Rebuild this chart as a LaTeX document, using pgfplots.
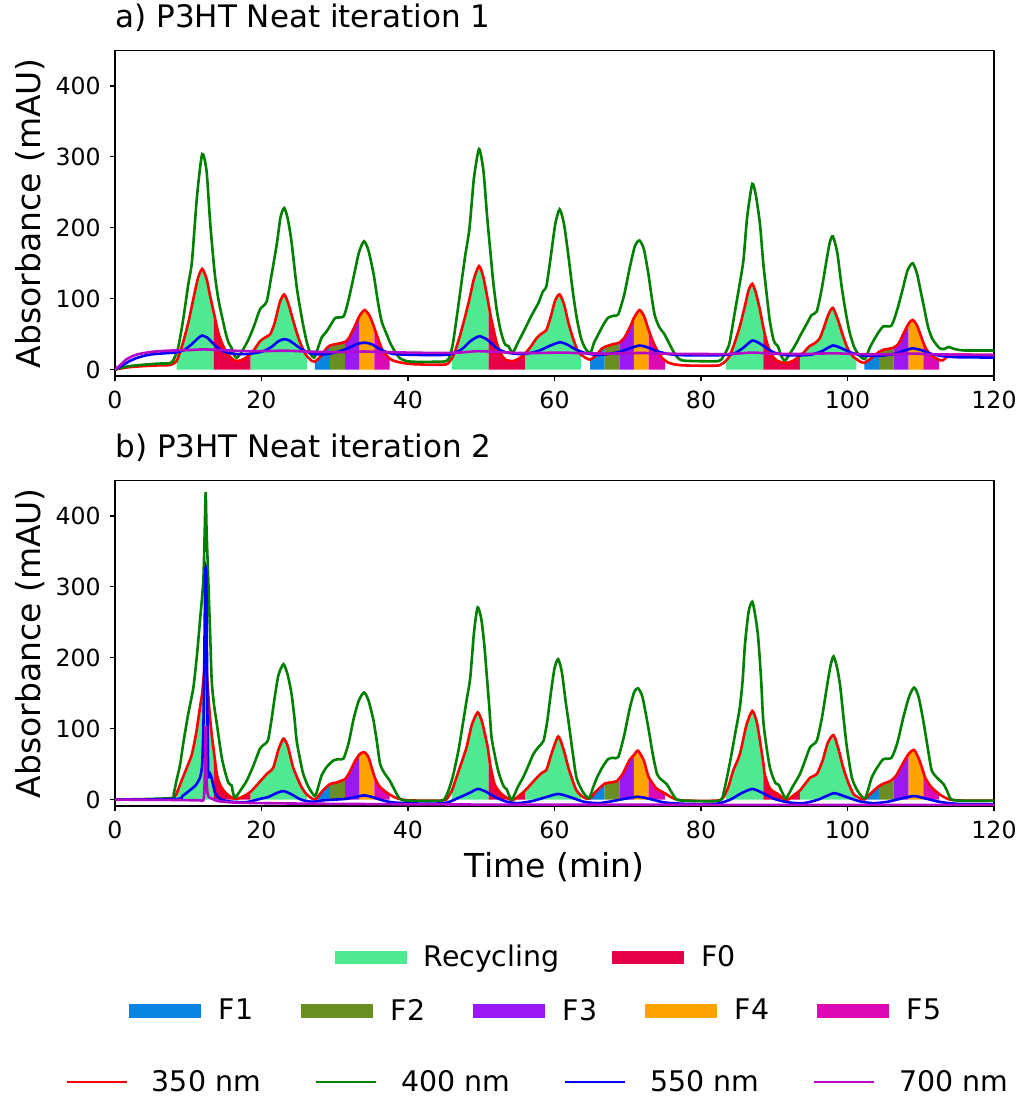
\documentclass[border=0pt]{standalone}
\usepackage{fontspec}
\setmainfont{DejaVu Sans}
\usepackage{pgfplots}
\usepackage{pgfplotstable}
\pgfplotsset{compat=1.18}

\definecolor{recyc}{HTML}{50E991}
\definecolor{fzero}{HTML}{E60049}
\definecolor{fone}{HTML}{0984E3}
\definecolor{ftwo}{HTML}{6B8E23}
\definecolor{fthree}{HTML}{9B19F5}
\definecolor{ffour}{HTML}{FFA300}
\definecolor{ffive}{HTML}{DC0AB4}
\definecolor{wlA}{HTML}{FF0000}
\definecolor{wlB}{HTML}{008000}
\definecolor{wlC}{HTML}{0000FF}
\definecolor{wlD}{HTML}{B40AC8}

% ---------------- iteration 1 ----------------
\pgfplotstableread{
t y
0 0
1 2
2 3.5
4 5
6 6
7.5 6.5
8.4 12
9.2 35
10.0 66
10.6 95
11.3 128
11.9 142
12.5 128
13.0 103
13.5 80
14.1 52
14.7 35
15.3 23
16.0 15
16.6 12
17.4 14
18.2 19
18.5 22
19.0 28
19.8 40
20.6 46
21.2 50
21.8 66
22.5 95
23.1 106
23.7 92
24.3 70
25.0 46
25.7 28
26.2 19
26.9 12
27.3 11.3
28.2 20
28.8 29
29.35 34
30.2 36
31.4 39
31.9 44
32.5 56
33.4 76
34.1 84
34.8 75
35.4 59
36.1 38
36.6 26
37.5 15.5
38.2 12
39.5 9
41 7.5
43 7
45 7
45.5 9
46.0 16
46.4 25
47.1 48
47.8 75
48.4 100
49.0 128
49.7 146
50.3 130
51.0 92
51.4 70
52.1 38
52.7 22
53.3 14
54.3 12
55.2 16
56.0 23
56.8 33
57.6 45
58.4 52
58.9 56
59.5 75
60.1 98
60.7 106
61.3 92
61.9 66
62.5 45
63.1 28
63.6 21
64.85 14
65.8 22
66.5 30
66.85 32
68.0 36
68.85 38
69.6 46
70.4 62
70.85 73
71.6 84
72.2 76
72.85 56
73.5 38
74.2 24
74.8 15
75.1 13
75.5 10
76.3 7.5
77.5 6
80 5.5
82.5 6
83.4 12.5
83.9 19
84.6 38
85.3 61
86.0 90
86.5 112
87.0 121
87.5 108
88.05 84
88.5 60
89.0 38
89.6 22
90.3 13
91.5 9.5
92.5 12
93.5 19.5
94.0 24
94.8 33
95.5 37
96.2 44
96.8 60
97.4 78
98.0 87
98.7 70
99.4 47
100.1 28
100.8 18
101.2 15
101.6 12
102.3 9.5
103.2 16
104.3 25
104.9 28
106.3 31
107.0 37
107.6 50
108.35 65
108.9 70
109.5 62
110.35 38
110.8 28
111.6 19
112.5 13.8
113.0 13
113.6 18
114.3 21
116 21
120 20.5
}\runAa

\pgfplotstableread{
t y
0 0
1 3
2 5
4 7
6 8.5
7.5 9
8.0 14
8.6 30
9.3 70
10.0 120
10.5 152
11.2 245
11.9 304
12.5 280
13.0 206
13.6 137
14.1 100
14.6 75
15.1 52
15.5 38
15.9 31
16.2 22
16.6 16.5
17.3 25
18.2 42
19.0 62
19.8 85
20.7 96
21.4 135
22.1 178
22.6 215
23.1 228
23.6 212
24.1 180
24.8 117
25.3 85
25.7 62
26.2 38
26.7 22
27.2 17
27.7 30
28.2 45
28.9 54
29.5 64
30.1 73
31.2 75
31.8 95
32.5 127
33.3 165
34.0 181
34.6 168
35.3 135
35.9 95
36.4 68
37.0 52
37.6 37
38.3 24
38.9 16
39.8 12
41 11
43 11
45 11.5
45.6 16
46.1 35
46.6 70
47.2 115
47.8 160
48.4 200
49.0 270
49.7 311
50.3 280
50.8 216
51.3 160
51.6 127
52.1 85
52.6 57
53.0 42
53.3 35
53.7 33
54.3 24
55.0 38
55.9 56
56.8 75
57.8 94
58.4 110
58.9 118
59.5 160
60.1 205
60.7 226
61.3 205
61.9 160
62.5 110
63.0 75
63.6 45
64.2 30
64.9 23.5
65.4 38
65.9 48
66.6 62
67.3 73
68.1 76
68.7 78
69.5 105
70.3 145
71.0 175
71.6 182
72.2 170
72.8 136
73.3 100
73.7 76
74.3 60
75.0 50
75.6 38
76.2 26
76.8 17
77.4 13
79 12
82.4 12
83.0 18
83.5 27
83.9 38
84.6 80
85.3 122
85.8 155
86.3 215
87.0 262
87.5 245
88.05 205
88.5 150
89.0 103
89.4 68
89.9 42
90.2 36
90.5 33
91.0 18
91.5 13
92.3 25
93.0 37
93.6 49
94.3 62
95.1 77
95.8 82
96.5 115
97.2 158
97.6 180
98.0 188
98.6 165
99.2 117
99.8 78
100.3 52
100.9 32
101.6 20
102.4 15
103.0 30
103.5 40
104.2 52
104.9 61
106.0 62
106.8 85
107.5 112
108.2 140
108.9 150
109.5 135
110.0 110
110.5 85
111.0 60
111.5 45
112.0 37
112.6 30
113.2 29
113.8 32
114.6 29
116 27
120 27
}\runAb

\pgfplotstableread{
t y
0 0
1 6
2 12
3 16.5
4 19.5
5 21.5
6 22.5
7.5 23.5
8.5 24.5
9.5 28
10.5 36
11.3 44
11.9 48
12.6 45
13.3 38
14.0 31
14.8 26
15.5 23.5
16.5 22
18 22
19.5 24
20.5 27
21.5 33
22.3 40
23.1 43
23.8 41
24.5 36
25.3 30
26 26
27 22
28 21.5
29 22
30 24
31 27
32 31
33 36
34.1 38
35 36
36 30
37 25
38 22
40 21
43 20.5
45.5 21
46.5 24
47.5 30
48.5 40
49.7 47
50.7 43
51.5 36
52.3 29
53.5 24
55 22
56.5 23
58 27
59 32
60.7 38.5
61.8 35
62.8 29
64 24
65.5 21
67 21.5
68.5 24
70 29
71.6 34
72.8 31
74 26
75.5 22
77 20.5
80 20
83 20.5
84.5 22.5
85.8 31
87.0 41
88.0 37
89 30
90 24
91.5 20.5
93 20
95 21
96.5 26
98.0 34
99.2 30
100.5 24
102 20
103.5 19.5
105 20
106.5 22.5
107.8 27
108.9 30
110.2 27
111.5 22
113 19
115 17.5
120 17
}\runAc

\pgfplotstableread{
t y
0 0
0.8 7
1.5 14
2.5 19.5
3.5 22.5
5 25
6.5 26.3
8 27
10 27.5
12 28.5
14 27.8
16 26.8
18 26
20 26
22 26.5
24 26.5
26 25.5
28 25
30 24.5
32 25
34 25.5
36 25
38 24.5
40 24
44 23.5
47 24
49.5 26
52 25
55 23.5
58 23.5
61 24
64 23
67 22.5
70 23
72 23.5
75 22.5
80 22
84 22
87 24
90 22.5
94 22
98 23
101 22
105 21.5
109 22.5
112 21.5
116 21
120 20.5
}\runAd

% ---------------- iteration 2 ----------------
\pgfplotstableread{
t y
0 0
7.5 0
8.0 2
8.4 8.5
9.1 27
9.8 45
10.5 64
11.1 95
11.6 130
11.9 150
12.2 185
12.4 205
12.6 170
12.9 125
13.2 92
13.5 68
13.9 36
14.3 22
14.8 13
15.5 6
16.4 1
17.4 4
18.5 11
19.5 22
20.7 36
21.6 45
22.3 70
23.0 86
23.6 75
24.3 46
25.0 28
25.5 17
26.2 7
27.3 0
28.3 12
29.35 22
30.2 24
31.4 29
32.0 38
32.8 55
33.4 64
34.0 67
34.6 60
35.4 33
36.0 20
36.6 14
37.5 7
38.5 2
40 -1
44 -1.5
45.2 0
46.0 13
46.6 31
47.3 52
48.0 74
48.7 105
49.5 123
50.1 110
50.8 78
51.0 65
51.3 45
51.8 22
52.4 12
53.0 6
54.2 -1
55.1 5
56.0 13
56.8 22
57.6 31
58.3 38
58.9 42
59.6 65
60.5 89
61.2 72
61.9 45
62.5 26
63.0 13
63.6 6
64.2 2
64.85 1.8
65.7 12
66.85 22.5
67.6 24
68.5 26
68.85 30
69.3 36
70.2 55
70.85 63
71.4 69
72.2 55
72.85 32
73.9 16
75.1 8.7
75.8 4
76.7 0
78 -1.5
82.5 -1
83.4 10
83.8 20
84.4 41
85.3 64
86.2 105
87.0 125
87.6 110
88.05 83
88.5 52
88.7 36
89.2 20
89.65 13
90.5 8
91.6 -1
92.5 5
93.5 13
94.2 22
94.9 31
95.8 36
96.6 55
97.3 80
98.1 91
98.8 70
99.4 45.5
100.1 24
100.8 8
101.2 5
101.6 2
102.3 0.2
103.2 9
104.3 19
105.0 23
105.8 26
106.3 30
106.6 33
107.5 50
108.35 64.5
109.1 70
109.8 56
110.35 39
110.6 31
111.4 18
112.5 8
113.1 4
114 0
116 -1.5
120 -1.5
}\runBa

\pgfplotstableread{
t y
0 0
7.5 2
8.0 8
8.4 27
8.9 50
9.3 78
10.0 121
10.7 158
11.2 205
11.6 252
12.05 308
12.25 380
12.38 434
12.5 380
12.74 308
13.0 230
13.2 168
13.5 135
13.9 107
14.2 85
14.56 60
15.0 40
15.47 24
15.75 21
15.93 20
16.1 10
16.4 3
17.2 14
18.0 27
18.9 48
19.8 72
20.4 78
20.9 84
21.4 115
21.8 144
22.3 175
23.0 191
23.6 175
24.1 149
24.5 115
24.8 83
25.3 55
25.7 36
26.4 18
27.3 5
27.8 20
28.2 34
28.9 46
29.8 55
30.5 57
31.2 58
31.9 80
32.6 115
33.3 140
34.0 151
34.6 140
35.3 111
35.8 78
36.2 50
36.8 37
37.5 27
38.2 13
38.9 1
40 -1.5
44.5 -1.5
45.2 5
45.7 18
46.2 36
46.9 70
47.55 111
48.0 140
48.5 172
49.0 235
49.5 271
50.0 255
50.4 220
50.7 182
51.1 130
51.4 88
51.9 60
52.3 41
52.7 28
53.0 20
53.2 17
53.5 14
53.8 6
54.2 0
55.0 18
55.7 31
56.4 47
57.1 64
57.8 74
58.5 83
59.0 110
59.5 150
60.0 185
60.5 198
61.0 180
61.5 140
61.9 111
62.5 65
63.0 31
63.8 12
64.7 2
65.3 18
65.8 31
66.5 45
67.3 57
68.0 59
68.7 60
69.5 90
70.3 130
70.9 152
71.4 157
72.0 145
72.8 102
73.4 65
74.0 36
74.6 28
75.3 22
76.0 10
76.7 0
78 -1.5
82.5 -1.5
83.2 15
84.0 55
84.7 95
85.3 130
85.7 170
86.0 219
86.5 265
87.0 279
87.4 260
87.8 229
88.2 170
88.5 111
89.0 70
89.4 45.5
89.8 32
90.2 23
90.6 21
91.0 12
91.6 2
92.5 18
93.5 36
94.2 55
94.9 74
95.8 83
96.5 115
97.2 160
97.7 190
98.1 202
98.6 185
99.0 160
99.4 121
99.9 75
100.6 31
101.4 12
102.4 2
103.3 31
104.1 46
104.9 57
106.0 59
106.8 80
107.6 115
108.4 145
109.1 158
109.7 145
110.35 111
111.0 70
111.5 41
112.3 30
113.1 22
113.6 12
114.2 0
116 -1.5
120 -1.5
}\runBb

\pgfplotstableread{
t y
0 0
8.4 1
9.2 5
10.2 13
11.0 20
11.6 31
11.9 50
12.1 120
12.3 300
12.38 327
12.48 300
12.62 120
12.74 36
13.0 36
13.2 30
13.65 10
14.2 2
14.8 -1
16 -3
18 -3.5
19.8 1
21 4
22 9
23.0 12
24 8
25 2
25.7 -1
27 -3
28.4 -1
30 0
31.5 1
33 4
34.0 6
35 4
36.5 -1
38 -4
41 -5.5
45 -5
47 3
48.5 10
49.5 15
50.5 12
52 3
53.5 -3
55 -5
57 -2
59 4
60.5 8
62 4
64 -3
66 -5
68 -2
70 2
71.4 4
73 1
75 -4
78 -6
82 -6
84 0
85.5 9
87.0 15
88.3 10
90 1
92 -4
94 -5
96 0
98.1 9
99.5 5
101.5 -2
103.5 -5
105.5 -3
107.5 2
109.1 5
110.5 2
112.5 -3
115 -6
120 -6.5
}\runBc

\pgfplotstableread{
t y
0 0
8 -0.5
11.5 -1
12.1 0
12.25 30
12.38 104
12.5 30
12.65 8
12.9 3
13.3 1
14 -2
16 -4
20 -5
30 -6
50 -7
80 -7.3
120 -7.5
}\runBd

% one collected fraction: area under the 350 nm trace between two times
\newcommand{\fracfill}[4]{%
  \addplot[fill=#1, draw=none, smooth, tension=0.4, forget plot,
    restrict x to domain=#2:#3] table {#4} \closedcycle;}
\newcommand{\fractionfills}[1]{%
  \fracfill{recyc}{8.4}{13.5}{#1}
  \fracfill{fzero}{13.5}{18.5}{#1}
  \fracfill{recyc}{18.5}{26.2}{#1}
  \fracfill{fone}{27.3}{29.35}{#1}
  \fracfill{ftwo}{29.35}{31.4}{#1}
  \fracfill{fthree}{31.4}{33.4}{#1}
  \fracfill{ffour}{33.4}{35.4}{#1}
  \fracfill{ffive}{35.4}{37.5}{#1}
  \fracfill{recyc}{46.0}{51.0}{#1}
  \fracfill{fzero}{51.0}{56.0}{#1}
  \fracfill{recyc}{56.0}{63.6}{#1}
  \fracfill{fone}{64.85}{66.85}{#1}
  \fracfill{ftwo}{66.85}{68.85}{#1}
  \fracfill{fthree}{68.85}{70.85}{#1}
  \fracfill{ffour}{70.85}{72.85}{#1}
  \fracfill{ffive}{72.85}{75.1}{#1}
  \fracfill{recyc}{83.4}{88.5}{#1}
  \fracfill{fzero}{88.5}{93.5}{#1}
  \fracfill{recyc}{93.5}{101.2}{#1}
  \fracfill{fone}{102.3}{104.3}{#1}
  \fracfill{ftwo}{104.3}{106.3}{#1}
  \fracfill{fthree}{106.3}{108.35}{#1}
  \fracfill{ffour}{108.35}{110.35}{#1}
  \fracfill{ffive}{110.35}{112.5}{#1}
}

\pgfplotsset{
  panel/.style={
    scale only axis, width=439.5pt, height=162.75pt,
    xmin=0, xmax=120, ymin=-9, ymax=450,
    xtick={0,20,...,120}, ytick={0,100,...,400},
    tick align=outside, tick pos=left, major tick length=2.5pt,
    axis line style={line width=0.55pt},
    every tick/.style={black, line width=0.55pt},
    ticklabel style={font=\fontsize{11.8}{14}\selectfont},
    /pgf/number format/assume math mode=true,
    xticklabel style={inner sep=0pt, yshift=-5pt},
    yticklabel style={inner sep=0pt, xshift=-4.5pt},
    ylabel={Absorbance (mAU)},
    ylabel style={at={(axis description cs:-0.0853,0.5)}, anchor=base,
      font=\fontsize{16.5}{19}\selectfont},
    title style={at={(axis description cs:0,1)}, anchor=base west,
      yshift=5.25pt, inner sep=0pt, font=\fontsize{15.5}{18}\selectfont},
  },
  trace/.style={line width=1.3pt, smooth, tension=0.4},
  keybox/.style={
    scale only axis, width=439.5pt, height=162.75pt,
    at={(0,0)}, anchor=south west, hide axis,
    xmin=0, xmax=1, ymin=0, ymax=1,
    legend cell align=left,
  },
}

\begin{document}
\begin{tikzpicture}
\useasboundingbox (-57.5pt,-145pt) rectangle (453pt,403pt);

% a) first iteration
\begin{axis}[panel, at={(0,215pt)}, anchor=south west,
  title={a) P3HT Neat iteration 1}]
  \fractionfills{\runAa}
  \addplot[trace, color=wlA] table {\runAa};
  \addplot[trace, color=wlB] table {\runAb};
  \addplot[trace, color=wlC] table {\runAc};
  \addplot[trace, color=wlD] table {\runAd};
\end{axis}

% b) second iteration
\begin{axis}[panel, at={(0,0)}, anchor=south west,
  title={b) P3HT Neat iteration 2},
  xlabel={Time (min)},
  xlabel style={at={(axis description cs:0.5,0)}, anchor=base, yshift=-35.5pt,
    font=\fontsize{16.5}{19}\selectfont}]
  \fractionfills{\runBa}
  \addplot[trace, color=wlA] table {\runBa};
  \addplot[trace, color=wlB] table {\runBb};
  \addplot[trace, color=wlC] table {\runBc};
  \addplot[trace, color=wlD] table {\runBd};
\end{axis}

% legend: recycling and F0
\begin{axis}[keybox, legend columns=2,
  legend style={at={(axis description cs:0.478,-0.465)}, anchor=center,
    draw=none, fill=none, inner sep=0pt,
    font=\fontsize{14.2}{17}\selectfont, nodes={inner sep=0pt},
    /tikz/every odd column/.append style={column sep=8.5pt},
    /tikz/every even column/.append style={column sep=26.5pt}},
  legend image code/.code={\fill[#1, draw=none] (0pt,-3.3pt) rectangle (36pt,3.3pt);}]
  \addplot[draw=none, forget plot] coordinates {(0,0) (1,1)};
  \addlegendimage{fill=recyc, draw=none}\addlegendentry{Recycling}
  \addlegendimage{fill=fzero, draw=none}\addlegendentry{F0}
\end{axis}

% legend: fractions F1-F5
\begin{axis}[keybox, legend columns=5,
  legend style={at={(axis description cs:0.478,-0.630)}, anchor=center,
    draw=none, fill=none, inner sep=0pt,
    font=\fontsize{14.2}{17}\selectfont, nodes={inner sep=0pt},
    /tikz/every odd column/.append style={column sep=9pt},
    /tikz/every even column/.append style={column sep=23.8pt}},
  legend image code/.code={\fill[#1, draw=none] (0pt,-3.3pt) rectangle (36pt,3.3pt);}]
  \addplot[draw=none, forget plot] coordinates {(0,0) (1,1)};
  \addlegendimage{fill=fone, draw=none}\addlegendentry{F1}
  \addlegendimage{fill=ftwo, draw=none}\addlegendentry{F2}
  \addlegendimage{fill=fthree, draw=none}\addlegendentry{F3}
  \addlegendimage{fill=ffour, draw=none}\addlegendentry{F4}
  \addlegendimage{fill=ffive, draw=none}\addlegendentry{F5}
\end{axis}

% legend: detection wavelengths
\begin{axis}[keybox, legend columns=4,
  legend style={at={(axis description cs:0.480,-0.848)}, anchor=center,
    draw=none, fill=none, inner sep=0pt,
    font=\fontsize{14.2}{17}\selectfont, nodes={inner sep=0pt},
    /tikz/every odd column/.append style={column sep=12pt},
    /tikz/every even column/.append style={column sep=27pt}},
  legend image code/.code={\draw[#1] (0pt,0pt) -- (30pt,0pt);}]
  \addplot[draw=none, forget plot] coordinates {(0,0) (1,1)};
  \addlegendimage{color=wlA, line width=1.1pt}\addlegendentry{350 nm}
  \addlegendimage{color=wlB, line width=1.1pt}\addlegendentry{400 nm}
  \addlegendimage{color=wlC, line width=1.1pt}\addlegendentry{550 nm}
  \addlegendimage{color=wlD, line width=1.1pt}\addlegendentry{700 nm}
\end{axis}
\end{tikzpicture}
\end{document}
